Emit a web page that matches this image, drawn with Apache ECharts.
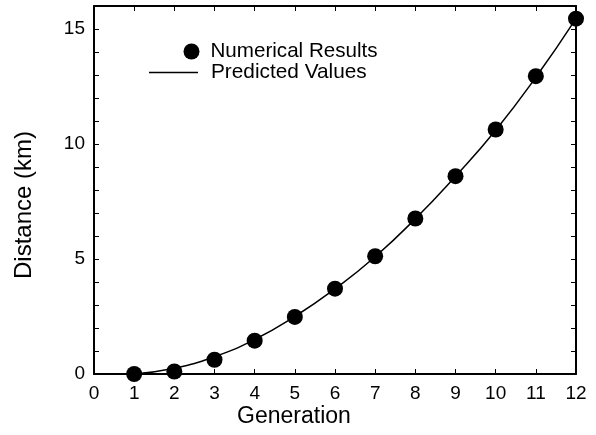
<!DOCTYPE html>
<html>
<head>
<meta charset="utf-8">
<script src="https://cdn.jsdelivr.net/npm/echarts@6/dist/echarts.min.js"></script>
<style>html,body{margin:0;padding:0;background:#fff;}#c{width:596px;height:435px;}</style>
</head>
<body>
<div id="c"></div>
<script>
const generations = [1, 2, 3, 4, 5, 6, 7, 8, 9, 10, 11, 12];
const numericalResults = [0.0, 0.11, 0.62, 1.45, 2.48, 3.71, 5.12, 6.76, 8.6, 10.63, 12.95, 15.45];
const predictedValues = [0.0, 0.25, 0.75, 1.5, 2.5, 3.7, 5.1, 6.75, 8.6, 10.6, 12.9, 15.45];
const xTicks = [0, 1, 2, 3, 4, 5, 6, 7, 8, 9, 10, 11, 12];
const yTickLabels = [0, 5, 10, 15];

const FONT = '"Liberation Sans", Arial, Helvetica, sans-serif';
const chart = echarts.init(document.getElementById('c'), null, {renderer: 'canvas'});

const axisCommon = {
  axisLine: {show: true, onZero: false, lineStyle: {color: '#000', width: 2}},
  axisTick: {show: true, inside: true, length: 5, lineStyle: {color: '#000', width: 1}},
  splitLine: {show: false}
};

chart.setOption({
  animation: false,
  backgroundColor: '#fff',
  grid: {left: 94, right: 20, top: 6, bottom: 61},
  legend: [
    {
      data: ['Numerical Results'],
      left: 178.5, top: 36,
      itemWidth: 28, itemHeight: 16,
      icon: 'circle',
      itemStyle: {color: '#000', opacity: 1},
      textStyle: {fontFamily: FONT, fontSize: 20.6, color: '#000', lineHeight: 16},
      selectedMode: false
    },
    {
      data: ['Predicted Values'],
      left: 144, top: 57,
      itemWidth: 49, itemHeight: 16,
      icon: 'path://M0,7 L49,7 L49,8.5 L0,8.5 Z',
      itemStyle: {color: '#000'},
      textStyle: {fontFamily: FONT, fontSize: 20.8, color: '#000', lineHeight: 16, padding: [0, 0, 0, 8]},
      selectedMode: false
    }
  ],
  xAxis: [
    Object.assign({
      type: 'value', min: 0, max: 12, interval: 1, position: 'bottom',
      axisLabel: {show: true, margin: 10, color: '#000', fontFamily: FONT, fontSize: 19,
        formatter: v => xTicks.indexOf(v) >= 0 ? String(v) : ''}
    }, axisCommon),
    Object.assign({
      type: 'value', min: 0, max: 12, interval: 1, position: 'top',
      axisLabel: {show: false}
    }, axisCommon)
  ],
  yAxis: [
    Object.assign({
      type: 'value', min: 0, max: 16, interval: 1, position: 'left',
      axisLabel: {show: true, margin: 9, color: '#000', fontFamily: FONT, fontSize: 19,
        formatter: v => yTickLabels.indexOf(v) >= 0 ? String(v) : ''}
    }, axisCommon),
    Object.assign({
      type: 'value', min: 0, max: 16, interval: 1, position: 'right',
      axisLabel: {show: false}
    }, axisCommon)
  ],
  graphic: [
    {type: 'text', x: 294, y: 417, style: {text: 'Generation', fontFamily: FONT, fontSize: 23, fill: '#000', align: 'center', verticalAlign: 'middle'}},
    {type: 'text', x: 24, y: 205, rotation: Math.PI / 2, style: {text: 'Distance (km)', fontFamily: FONT, fontSize: 24, fill: '#000', align: 'center', verticalAlign: 'middle'}}
  ],
  series: [
    {
      name: 'Predicted Values', type: 'line', smooth: true, symbol: 'none',
      data: generations.map((g, i) => [g, predictedValues[i]]),
      lineStyle: {color: '#000', width: 1.5},
      itemStyle: {color: '#000'},
      z: 2
    },
    {
      name: 'Numerical Results', type: 'scatter', symbol: 'circle', symbolSize: 16,
      data: generations.map((g, i) => [g, numericalResults[i]]),
      itemStyle: {color: '#000', opacity: 1},
      z: 3
    }
  ]
});
</script>
</body>
</html>
